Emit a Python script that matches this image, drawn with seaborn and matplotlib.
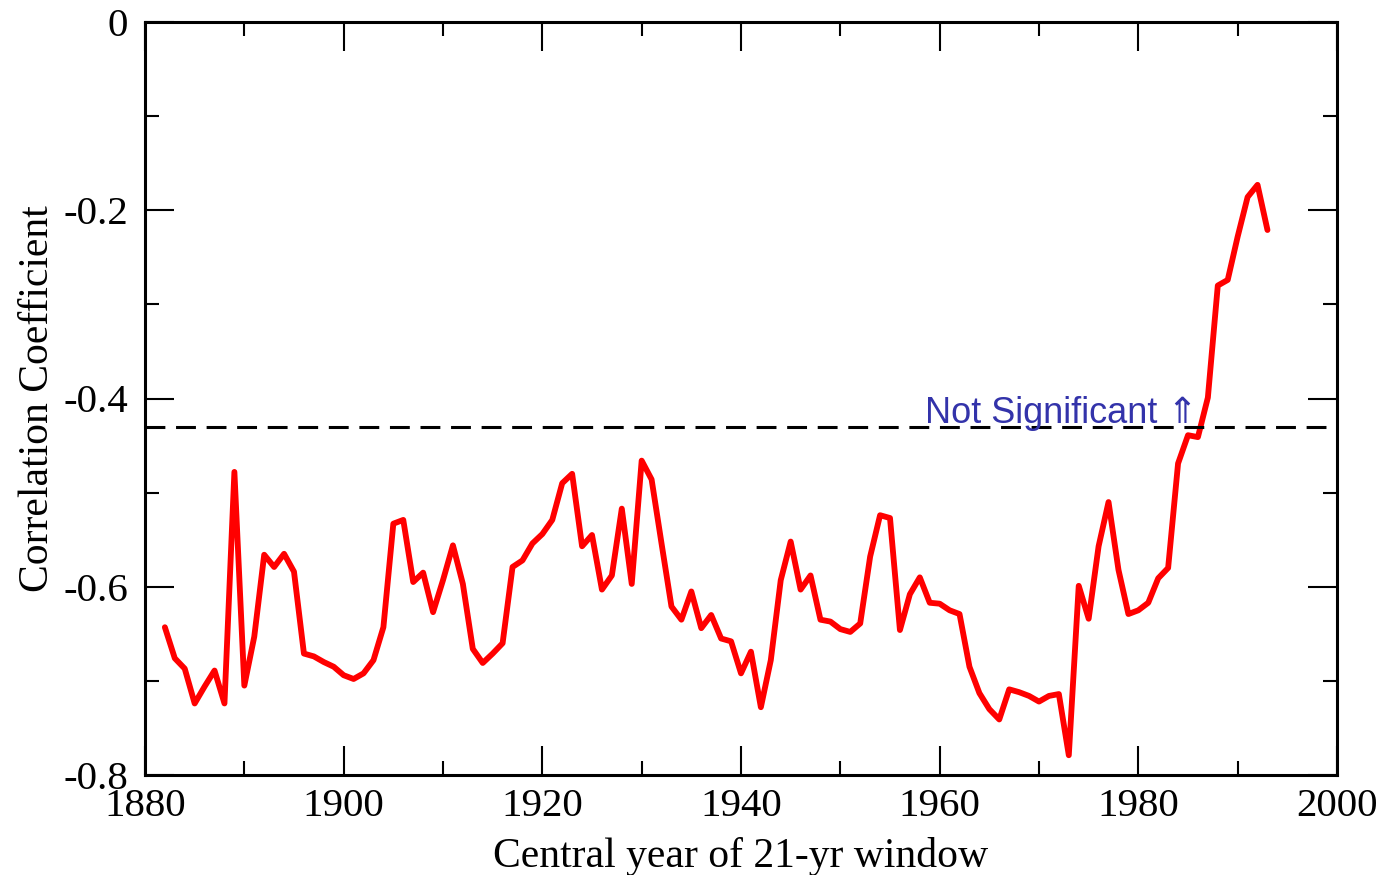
import numpy as np
import pandas as pd
import matplotlib
matplotlib.use("Agg")
import matplotlib.pyplot as plt
import seaborn as sns
from matplotlib.ticker import MultipleLocator, FixedLocator, FixedFormatter

years = list(range(1882, 1994))
corr = [
    -0.643, -0.676, -0.687, -0.724, -0.706, -0.689, -0.724, -0.478, -0.705, -0.653,  # 1882-1891
    -0.566, -0.579, -0.565, -0.584, -0.671, -0.674, -0.680, -0.685, -0.694, -0.698,  # 1892-1901
    -0.692, -0.678, -0.643, -0.533, -0.529, -0.595, -0.585, -0.627, -0.593, -0.556,  # 1902-1911
    -0.597, -0.666, -0.681, -0.671, -0.660, -0.579, -0.572, -0.554, -0.544, -0.529,  # 1912-1921
    -0.490, -0.480, -0.557, -0.545, -0.603, -0.588, -0.517, -0.597, -0.466, -0.486,  # 1922-1931
    -0.554, -0.621, -0.635, -0.605, -0.644, -0.630, -0.655, -0.658, -0.692, -0.669,  # 1932-1941
    -0.728, -0.678, -0.593, -0.552, -0.603, -0.588, -0.635, -0.637, -0.645, -0.648,  # 1942-1951
    -0.639, -0.568, -0.524, -0.527, -0.646, -0.608, -0.590, -0.617, -0.618, -0.625,  # 1952-1961
    -0.629, -0.685, -0.713, -0.730, -0.741, -0.709, -0.712, -0.716, -0.722, -0.716,  # 1962-1971
    -0.714, -0.779, -0.599, -0.634, -0.557, -0.510, -0.582, -0.629, -0.625, -0.617,  # 1972-1981
    -0.591, -0.580, -0.469, -0.439, -0.441, -0.399, -0.280, -0.274, -0.228, -0.186,  # 1982-1991
    -0.173, -0.221,                                                                    # 1992-1993
]
significance_level = -0.43
annotation_text = "Not Significant \u21d1"
x_ticks = [1880, 1900, 1920, 1940, 1960, 1980, 2000]
x_tick_labels = ["1880", "1900", "1920", "1940", "1960", "1980", "2000"]
y_ticks = [-0.8, -0.6, -0.4, -0.2, 0.0]
y_tick_labels = ["-0.8", "-0.6", "-0.4", "-0.2", "0"]
x_label = "Central year of 21-yr window"
y_label = "Correlation Coefficient"

df = pd.DataFrame({"year": years, "corr": corr})

sns.set_style("ticks")
plt.rcParams["font.family"] = ["Liberation Serif", "DejaVu Serif"]

fig = plt.figure(figsize=(13.87, 8.75), dpi=100)
ax = fig.add_axes([145 / 1387, 1 - 775 / 875, (1337 - 145) / 1387, (775 - 22) / 875])

sns.lineplot(data=df, x="year", y="corr", ax=ax, color="#ff0000", linewidth=4.2)
ax.axhline(significance_level, color="black", linewidth=2.2, linestyle=(0, (6.5, 3.5)))

ax.text(1958.5, -0.4265, annotation_text, color="#3333aa", fontsize=26,
        family=["Liberation Sans", "DejaVu Sans"], ha="left", va="baseline")

ax.set_xlim(1880, 2000)
ax.set_ylim(-0.8, 0.0)
ax.xaxis.set_major_locator(FixedLocator(x_ticks))
ax.xaxis.set_major_formatter(FixedFormatter(x_tick_labels))
ax.xaxis.set_minor_locator(MultipleLocator(10))
ax.yaxis.set_major_locator(FixedLocator(y_ticks))
ax.yaxis.set_major_formatter(FixedFormatter(y_tick_labels))
ax.yaxis.set_minor_locator(MultipleLocator(0.1))

ax.tick_params(which="major", direction="in", length=21, width=1.5, color="black",
               top=True, right=True, labelsize=29.5, labelcolor="black")
ax.tick_params(axis="y", which="major", pad=12)
ax.tick_params(axis="x", which="major", pad=9)
ax.tick_params(which="minor", direction="in", length=10, width=1.5, color="black",
               top=True, right=True)
for s in ax.spines.values():
    s.set_visible(True)
    s.set_linewidth(2.2)
    s.set_color("black")

ax.set_xlabel(x_label, fontsize=30, labelpad=9, color="black")
ax.set_ylabel(y_label, fontsize=30, labelpad=4.5, color="black")

fig.savefig("out.png", dpi=100, facecolor="white")
